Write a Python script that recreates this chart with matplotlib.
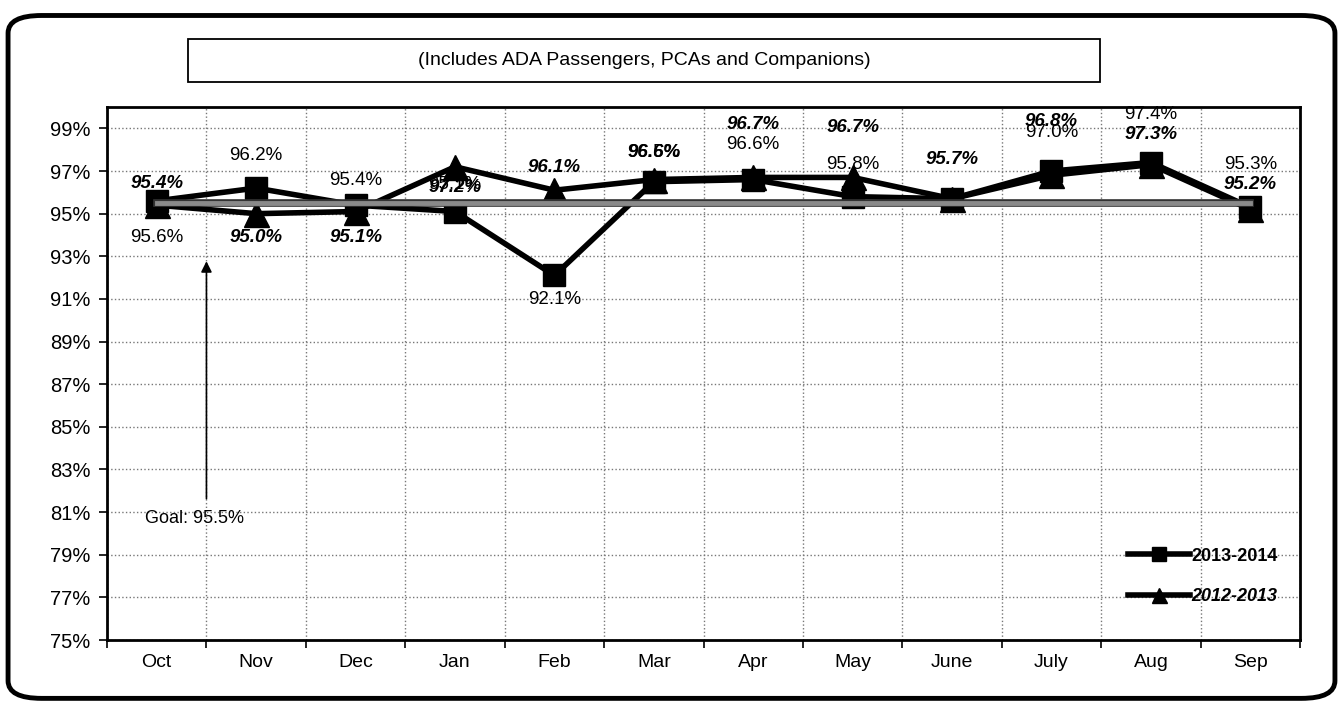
import numpy as np
import matplotlib
matplotlib.use('Agg')
import matplotlib.pyplot as plt
from matplotlib.patches import FancyBboxPatch, Rectangle
import matplotlib.patheffects as pe

plt.rcParams['font.family'] = ['Liberation Sans', 'DejaVu Sans']

meses = ['Oct', 'Nov', 'Dec', 'Jan', 'Feb', 'Mar', 'Apr', 'May', 'June', 'July', 'Aug', 'Sep']
serie_1314 = [95.6, 96.2, 95.4, 95.1, 92.1, 96.5, 96.6, 95.8, 95.7, 97.0, 97.4, 95.3]
serie_1213 = [95.4, 95.0, 95.1, 97.2, 96.1, 96.6, 96.7, 96.7, 95.7, 96.8, 97.3, 95.2]
rotulo_1314 = [True, True, True, True, True, True, True, True, False, True, True, True]
meta = 95.5
titulo = '(Includes ADA Passengers, PCAs and Companions)'

# deslocamento vertical dos rotulos (pixels)
desl_1314 = [-37, 33, 25, 27, -24, 29, 35, 32, 0, 39, 48, 43]
desl_1213 = [22, -24, -26, -21, 23, 27, 53, 50, 39, 54, 30, 25]

fig = plt.figure(figsize=(13.43, 7.04), dpi=100)
ax = fig.add_axes([0.0797, 0.0909, 0.8883, 0.757])

x = np.arange(len(meses))

ax.plot(x, serie_1213, color='black', lw=4, marker='^', markersize=18,
        markerfacecolor='black', markeredgecolor='black', zorder=3, label='2012-2013')
ax.plot(x, serie_1314, color='black', lw=4, marker='s', markersize=16,
        markerfacecolor='black', markeredgecolor='black', zorder=4, label='2013-2014')

# linha da meta
ax.plot([x[0], x[-1]], [meta, meta], color='#8a8a8a', lw=3.5, zorder=5,
        path_effects=[pe.Stroke(linewidth=5.5, foreground='#333333'), pe.Normal()])

for i in range(len(meses)):
    if rotulo_1314[i]:
        ax.annotate('%.1f%%' % serie_1314[i], (x[i], serie_1314[i]),
                    xytext=(0, desl_1314[i]), textcoords='offset pixels',
                    ha='center', va='center', fontsize=13.5, zorder=6)
    ax.annotate('%.1f%%' % serie_1213[i], (x[i], serie_1213[i]),
                xytext=(0, desl_1213[i]), textcoords='offset pixels',
                ha='center', va='center', fontsize=13.5, fontweight='bold',
                fontstyle='italic', zorder=6)

ax.annotate('', xy=(0.5, 92.9), xytext=(0.5, 81.5),
            arrowprops=dict(arrowstyle='-|>', color='black', lw=1.2, mutation_scale=16))
ax.text(-0.12, 80.7, 'Goal: 95.5%', fontsize=13, ha='left', va='center')

ax.set_xlim(-0.5, len(meses) - 0.5)
ax.set_ylim(75, 100)
ax.set_yticks(np.arange(75, 100, 2))
ax.set_yticklabels(['%d%%' % v for v in range(75, 100, 2)], fontsize=14.5)
ax.set_xticks(x)
ax.set_xticklabels(meses, fontsize=14)
ax.tick_params(axis='x', which='major', length=0, pad=10)
ax.set_xticks(np.arange(-0.5, len(meses), 1), minor=True)
ax.tick_params(axis='x', which='minor', length=6, width=1.2, direction='out')
ax.tick_params(axis='y', length=6, width=1.2, direction='out', pad=6)
ax.grid(True, axis='y', which='major', linestyle=':', color='#777777', lw=1)
ax.grid(True, axis='x', which='minor', linestyle=':', color='#777777', lw=1)
for s in ax.spines.values():
    s.set_linewidth(2)

h, l = ax.get_legend_handles_labels()
leg = ax.legend(h[::-1], l[::-1], loc='lower right', bbox_to_anchor=(0.995, 0.035),
                frameon=False, fontsize=13, handlelength=3.4, labelspacing=1.3,
                handletextpad=0.1, markerscale=0.6)
txts = leg.get_texts()
txts[0].set_fontweight('bold')
txts[1].set_fontweight('bold')
txts[1].set_fontstyle('italic')

fig.patches.append(Rectangle((0.14, 0.8835), 0.679, 0.061, transform=fig.transFigure,
                             fill=False, edgecolor='black', lw=1.3))
fig.text(0.4795, 0.914, titulo, ha='center', va='center', fontsize=14)

fig.patches.append(FancyBboxPatch((0.006, 0.008), 0.988, 0.97,
                                  boxstyle='round,pad=0,rounding_size=0.025',
                                  transform=fig.transFigure, fill=False,
                                  edgecolor='black', lw=3.5))

plt.savefig('out.png', dpi=100)
